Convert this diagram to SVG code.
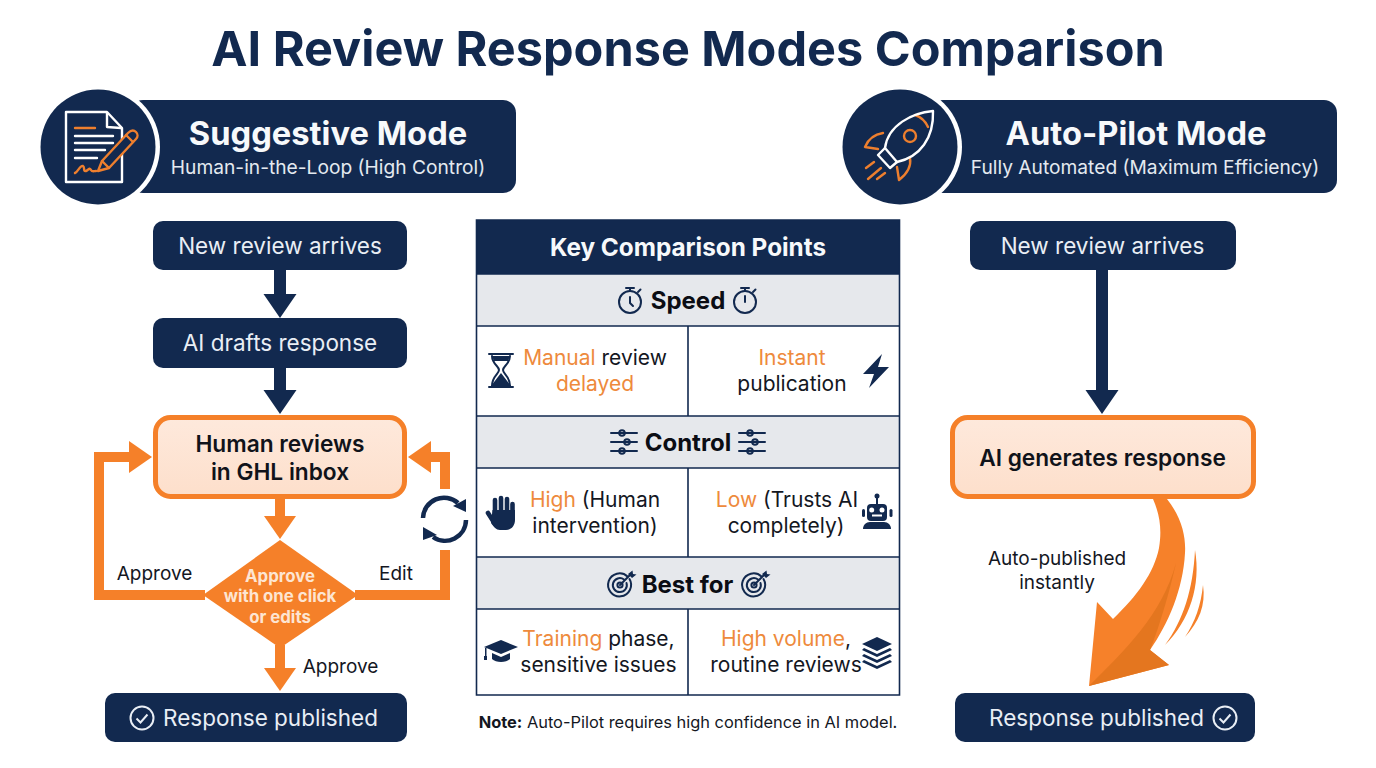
<svg xmlns="http://www.w3.org/2000/svg" width="1376" height="768" viewBox="0 0 1376 768">
<style>
text{font-family:Inter,"Liberation Sans",sans-serif;text-anchor:middle}
.navy{fill:#12294f}
.pill{font-size:22.500px;fill:#e9eef5}
.b1{font-size:32.700px;font-weight:700;fill:#f7f9fb}
.b2{font-size:19.200px;fill:#e4e9f0}
.cell{font-size:21px;fill:#14171f}
.o{fill:#ee8a3c}
.head{font-size:24px;font-weight:700;fill:#0b0d14}
.hb{font-size:22.700px;font-weight:600;fill:#10131a}
.lab{font-size:19px;fill:#14171f}
.dia{font-size:16.800px;font-weight:700;fill:#fde5d2}
.peach{fill:url(#pg);stroke:#f58029;stroke-width:5}
.grid{fill:none;stroke:#12294f;stroke-width:1.600}
.ic{fill:none;stroke:#12294f;stroke-width:2;stroke-linecap:round;stroke-linejoin:round}
.wl{fill:none;stroke:#fff;stroke-width:2.400;stroke-linecap:round;stroke-linejoin:round}
.ol{fill:none;stroke:#ee7f2e;stroke-width:2.400;stroke-linecap:round;stroke-linejoin:round}
.cn{fill:none;stroke-linejoin:miter}
</style>
<defs>
<linearGradient id="pg" x1="0" y1="0" x2="0" y2="1"><stop offset="0" stop-color="#fee9dc"/><stop offset="1" stop-color="#fddfcb"/></linearGradient>
<marker id="hn" markerUnits="userSpaceOnUse" markerWidth="24" markerHeight="34" refX="0" refY="17" orient="auto"><path d="M0 0.500L24 17L0 33.500Z" fill="#12294f"/></marker>
<marker id="ho" markerUnits="userSpaceOnUse" markerWidth="24" markerHeight="34" refX="0" refY="17" orient="auto"><path d="M0 1L23 17L0 33Z" fill="#f58029"/></marker>
<g id="check"><circle r="11.500" fill="none" stroke="#e9eef5" stroke-width="2"/><path d="M-5.500 0.500L-1.500 4.500L5.500-3.500" fill="none" stroke="#e9eef5" stroke-width="2"/></g>
<g id="watch"><circle cy="2" r="11" class="ic"/><path d="M-4-12H4M0-12V-9M8-8L10.500-10.500" class="ic"/></g>
<g id="slid"><path d="M-13-9H13M-13 0H13M-13 9H13" class="ic" stroke-width="1.800"/><circle cx="-2" cy="-9" r="2.800" fill="#e6e8ec" class="ic"/><circle cx="3" cy="0" r="2.800" fill="#e6e8ec" class="ic"/><circle cx="-2" cy="9" r="2.800" fill="#e6e8ec" class="ic"/></g>
<g id="targ"><path d="M7.500-8.500A11.500 11.500 0 1 0 9.500-6" class="ic" stroke-width="2.400"/><path d="M4-5.500A7 7 0 1 0 6.500-2" class="ic" stroke-width="2.200"/><circle r="2.600" class="ic"/><path d="M0 0L10-10" class="ic"/><path d="M8-11L12.500-14.500L13-11L16.500-10.500L12-7Z" class="navy"/></g>
</defs>
<rect width="1376" height="768" fill="#fff"/>
<text x="688" y="66" font-size="48.600" font-weight="700" fill="#12294f">AI Review Response Modes Comparison</text>

<g id="connectors">
<path class="cn" d="M280 270V294" stroke="#12294f" stroke-width="12" marker-end="url(#hn)"/>
<path class="cn" d="M280 368V390" stroke="#12294f" stroke-width="12" marker-end="url(#hn)"/>
<path class="cn" d="M280 499V516" stroke="#f58029" stroke-width="10" marker-end="url(#ho)"/>
<path class="cn" d="M280 645V668" stroke="#f58029" stroke-width="10" marker-end="url(#ho)"/>
<path class="cn" d="M205 595H99V457H129" stroke="#f58029" stroke-width="10" marker-end="url(#ho)"/>
<path class="cn" d="M355 595H445V550" stroke="#f58029" stroke-width="10"/>
<path class="cn" d="M445 489V457H431" stroke="#f58029" stroke-width="10" marker-end="url(#ho)"/>
<path class="cn" d="M1102 270V390" stroke="#12294f" stroke-width="12" marker-end="url(#hn)"/>
<path d="M1153 499H1167C1182 518 1186 537 1185 553C1183 590 1168 624 1150 650L1169 665L1089 686L1097 602L1113 619C1137 596 1154 573 1159 548C1162 530 1160 515 1153 499Z" fill="#f6812a"/>
<path d="M1176 563C1170 590 1160 625 1150 650L1169 665L1089 686C1125 650 1162 615 1176 563Z" fill="#e4761f"/>
<path d="M1195 550C1201 585 1190 620 1165 645C1183 620 1193 590 1195 550Z" fill="#f58029"/>
<path d="M1203 585C1206 605 1199 622 1185 637C1195 622 1201 605 1203 585Z" fill="#f58029"/>
<text class="lab" x="154.500" y="580">Approve</text>
<text class="lab" x="396" y="580">Edit</text>
<text class="lab" x="340.500" y="673">Approve</text>
<text class="lab" x="1057" y="565">Auto-published</text>
<text class="lab" x="1057" y="589">instantly</text>
</g>

<g id="sync-icon" fill="#12294f">
<path d="M423 518A21 21 0 0 1 458 503" fill="none" stroke="#12294f" stroke-width="4.500"/>
<path d="M466 499V512L453 506Z"/>
<path d="M466 520A21 21 0 0 1 433 537" fill="none" stroke="#12294f" stroke-width="4.500"/>
<path d="M423 527V540L437 535Z"/>
</g>

<g id="suggestive-banner">
<rect x="130" y="100" width="386" height="93" rx="13" class="navy"/>
<circle cx="98" cy="147" r="62" fill="#fff"/>
<circle cx="98" cy="147" r="57.500" class="navy"/>
<path class="wl" d="M66 112H107L122 128V182H66Z"/>
<path class="wl" d="M107 113V127L121 128"/>
<path d="M75 128H95" class="ol"/>
<path class="wl" d="M75 136H113M75 143H113M75 150H105M75 158H97"/>
<path class="ol" d="M75 173C78 172 80 165 83 166C85 167 83 172 86 171C89 170 89 167 91 170C92 172 94 171 96 171"/>
<path d="M98 171L102 161L128 133C131 130 134 130 136 132C138 134 138 137 136 139L109 168Z" fill="#12294f" stroke="#ee7f2e" stroke-width="2.400" stroke-linejoin="round"/>
<path class="ol" d="M102 161L109 168M126 135L133 142"/>
<text class="b1" x="328" y="145">Suggestive Mode</text>
<text class="b2" x="328" y="174">Human-in-the-Loop (High Control)</text>
</g>

<g id="autopilot-banner">
<rect x="930" y="100" width="407" height="93" rx="13" class="navy"/>
<circle cx="900" cy="147" r="62" fill="#fff"/>
<circle cx="900" cy="147" r="57.500" class="navy"/>
<path class="ol" d="M883 133Q870 135 865 147L878 149"/>
<path class="ol" d="M910 158Q912 170 899 180L897 167"/>
<path class="ol" d="M915 115Q924 118 928 127"/>
<path class="ol" d="M866 168L874 162M868 179L881 168M877 179L885 173"/>
<path class="wl" d="M933 111C912 113 888 125 885 148L897 162C920 157 934 138 933 111Z"/>
<path class="wl" d="M885 148L878 155L890 168L897 162"/>
<circle cx="910" cy="136" r="6" class="ol"/>
<text class="b1" x="1136" y="145">Auto-Pilot Mode</text>
<text class="b2" x="1145" y="174">Fully Automated (Maximum Efficiency)</text>
</g>

<g id="s-new-review"><rect x="153" y="221" width="254" height="49" rx="10" class="navy"/><text class="pill" x="280" y="254">New review arrives</text></g>
<g id="s-ai-drafts"><rect x="153" y="318" width="254" height="50" rx="10" class="navy"/><text class="pill" x="280" y="351">AI drafts response</text></g>
<g id="s-human"><rect x="155.500" y="417.500" width="249" height="79" rx="15" class="peach"/><text class="hb" x="280" y="452">Human reviews</text><text class="hb" x="280" y="480">in GHL inbox</text></g>
<g id="s-decision"><path d="M280 540L358 595L280 648L203 595Z" fill="#f58029"/><text class="dia" x="280" y="582">Approve</text><text class="dia" x="280" y="602">with one click</text><text class="dia" x="280" y="623">or edits</text></g>
<g id="s-published"><rect x="105" y="693" width="302" height="49" rx="10" class="navy"/><use href="#check" x="142" y="718"/><text class="pill" x="270.500" y="726">Response published</text></g>

<g id="comparison-table">
<rect x="476.500" y="220" width="423" height="54" class="navy"/>
<rect x="476.500" y="274" width="423" height="52" fill="#e6e8ec"/>
<rect x="476.500" y="416" width="423" height="52" fill="#e6e8ec"/>
<rect x="476.500" y="557" width="423" height="52" fill="#e6e8ec"/>
<path class="grid" d="M476.500 220H899.500V695H476.500ZM476.500 274H899.500M476.500 326H899.500M476.500 416H899.500M476.500 468H899.500M476.500 557H899.500M476.500 609H899.500M688 326V416M688 468V557M688 609V695"/>
<text x="688" y="256" font-size="24.300" font-weight="700" fill="#f7f9fb">Key Comparison Points</text>

<text class="head" x="688" y="309">Speed</text>
<use href="#watch" x="630" y="300"/><path class="ic" d="M630 297V303L633 306"/>
<use href="#watch" x="745" y="300"/><path class="ic" d="M745 296V302"/>
<text class="cell" x="595" y="365"><tspan class="o">Manual</tspan> review</text><text class="cell o" x="595" y="391">delayed</text>
<text class="cell o" x="792" y="365">Instant</text><text class="cell" x="792" y="391">publication</text>
<g id="hourglass">
<path d="M489 354H513M489 387H513" class="ic" stroke-width="3"/>
<path d="M492 356C492 364 499 366 499 370C499 374 492 376 492 386M510 356C510 364 503 366 503 370C503 374 510 376 510 386" class="ic" stroke-width="2.400"/>
<path d="M492 356H510L508 361H494Z" class="navy"/>
<path d="M501 373L511 386H491Z" class="navy"/>
</g>
<path d="M882 354L863 374H874L869 388L889 367H878Z" class="navy"/>

<text class="head" x="688" y="451">Control</text>
<use href="#slid" x="624" y="442"/><use href="#slid" x="752" y="442"/>

<text class="cell" x="595" y="507"><tspan class="o">High</tspan> (Human</text><text class="cell" x="595" y="533">intervention)</text>
<text class="cell" x="787" y="507"><tspan class="o">Low</tspan> (Trusts AI</text><text class="cell" x="786" y="533">completely)</text>
<g id="hand">
<path d="M495 514V500M501 514V498M507 514V499M512.500 516V504M488 513L495 524" fill="none" stroke="#12294f" stroke-width="4.600" stroke-linecap="round"/>
<path d="M492.500 510H515V520C515 526 511 530 506 530H500C496 530 494 527 491 523Z" class="navy"/>
</g>
<g id="robot" class="navy">
<circle cx="877" cy="496" r="2.500"/><rect x="876" y="497" width="2" height="7"/>
<rect x="867" y="504" width="20" height="17" rx="4"/>
<rect x="862" y="509" width="3" height="8" rx="1.500"/><rect x="889.500" y="509" width="3" height="8" rx="1.500"/>
<path d="M863 529C863 525 866 522 870 522H884C888 522 891 525 891 529Z"/>
</g>
<circle cx="871.700" cy="510" r="2.500" fill="#fff"/><circle cx="882" cy="510" r="2.500" fill="#fff"/><rect x="872" y="514.500" width="10" height="2" fill="#fff"/>

<text class="head" x="687.500" y="593">Best for</text>
<use href="#targ" x="620" y="585"/><use href="#targ" x="754" y="585"/>

<text class="cell" x="598.500" y="646"><tspan class="o">Training</tspan> phase,</text><text class="cell" x="598.500" y="672">sensitive issues</text>
<text class="cell" x="786" y="646"><tspan class="o">High volume</tspan>,</text><text class="cell" x="786" y="672">routine reviews</text>
<g id="cap-layers" class="navy">
<path d="M501 640L518 647L501 654L484 647Z"/>
<path d="M492 653V659C496 663 506 663 510 659V653L501 657Z"/>
<rect x="485" y="648" width="1.500" height="9"/><rect x="484" y="656" width="3" height="4"/>
<path d="M877 637L892 644L877 651L862 644Z"/>
<path d="M864 648L877 654L890 648L892 650L877 657L862 650Z"/>
<path d="M864 654L877 660L890 654L892 656L877 663L862 656Z"/>
<path d="M864 660L877 666L890 660L892 662L877 669L862 662Z"/>
</g>
<text x="688" y="728" font-size="16.400" fill="#14171f"><tspan font-weight="700">Note:</tspan> Auto-Pilot requires high confidence in AI model.</text>
</g>

<g id="a-new-review"><rect x="970" y="221" width="266" height="49" rx="10" class="navy"/><text class="pill" x="1102.500" y="254">New review arrives</text></g>
<g id="a-ai-generates"><rect x="952.500" y="417.500" width="301" height="79" rx="15" class="peach"/><text class="hb" x="1102.500" y="466">AI generates response</text></g>
<g id="a-published"><rect x="955" y="693" width="300" height="49" rx="10" class="navy"/><text class="pill" x="1096.500" y="726">Response published</text><use href="#check" x="1225" y="718"/></g>
</svg>
